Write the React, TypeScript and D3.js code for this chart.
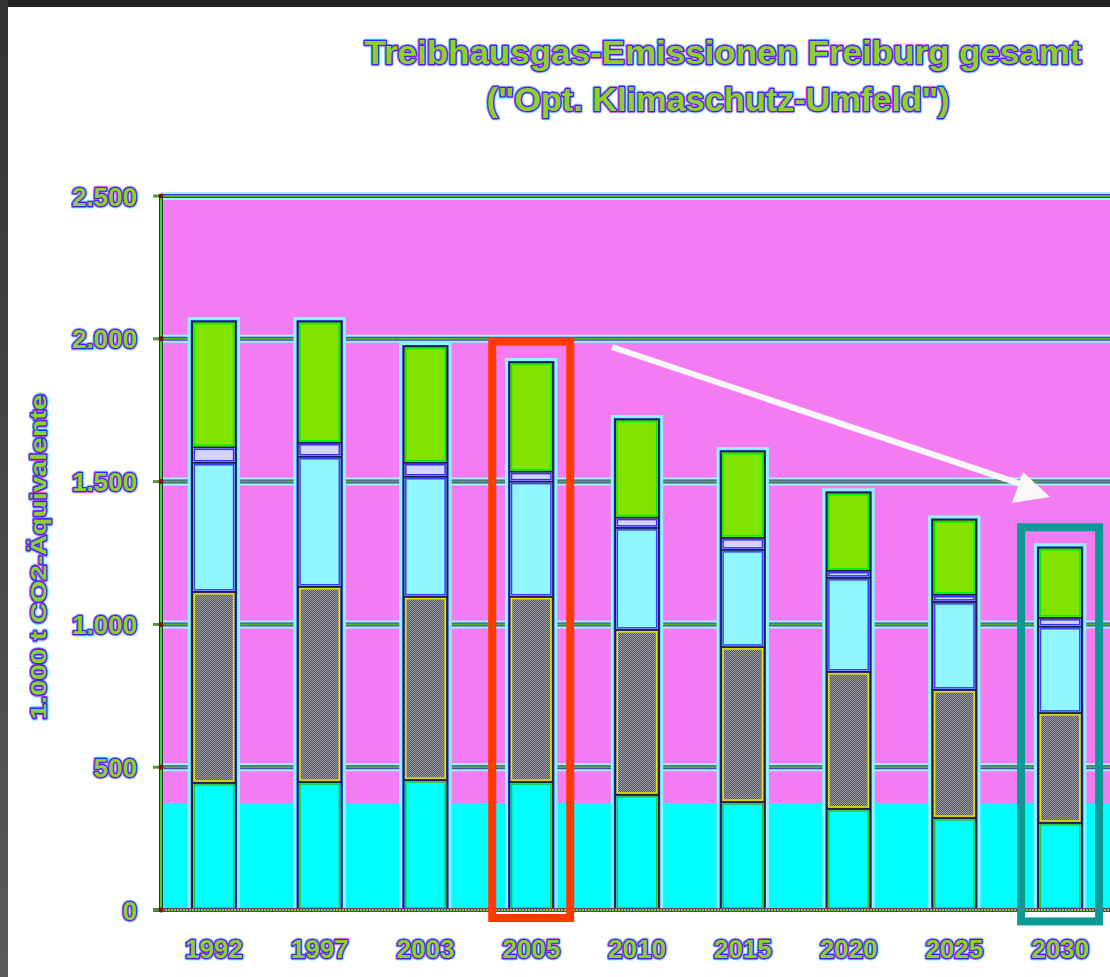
import React from "react";
import * as d3 from "d3";

// ---------- data ----------
const years = ["1992", "1997", "2003", "2005", "2010", "2015", "2020", "2025", "2030"];
const cyanPart = [445, 448, 455, 448, 403, 378, 354, 322, 305];
const grayPart = [669, 684, 642, 649, 578, 543, 480, 449, 385];
const lightCyanPart = [452, 455, 420, 403, 357, 340, 329, 308, 302];
const stripPart = [54, 49, 49, 35, 36, 42, 25, 25, 31];
const greenPart = [440, 424, 407, 382, 343, 302, 273, 262, 245];
const yTicks = [0, 500, 1000, 1500, 2000, 2500];
const yTickLabels = ["0", "500", "1.000", "1.500", "2.000", "2.500"];
const backgroundBand = [375];
const titleLines = ["Treibhausgas-Emissionen Freiburg gesamt", "(\"Opt. Klimaschutz-Umfeld\")"];
const yAxisTitle = "1.000 t CO2-Äquivalente";

const keys = ["cyan", "gray", "lightCyan", "strip", "green"];
const fills: Record<string, string> = {
  cyan: "#00ffff",
  gray: "url(#grayChecker)",
  lightCyan: "#90f6ff",
  strip: "#d4d4ff",
  green: "#80e400",
};
const innerStroke: Record<string, string> = {
  cyan: "#30c030",
  gray: "#e6e600",
  lightCyan: "#3c3cff",
  strip: "#3030ff",
  green: "#00f000",
};

const W = 1110;
const H = 977;
const plotLeft = 161;
const plotTop = 196;
const plotBottom = 910;

function Fancy(props: any) {
  const { x, y, size, anchor, transform, textLength, children } = props;
  const common: any = {
    x,
    y,
    fontSize: size,
    textAnchor: anchor || "middle",
    fontFamily: "'Liberation Sans', Arial, sans-serif",
    fontWeight: "bold",
    transform,
    textLength,
    lengthAdjust: textLength ? "spacingAndGlyphs" : undefined,
  };
  return (
    <g>
      <text {...common} fill="none" stroke="#80ffff" strokeWidth={5} strokeLinejoin="round">{children}</text>
      <text {...common} fill="none" stroke="#e040f0" strokeWidth={3.4} strokeLinejoin="round">{children}</text>
      <text {...common} fill="#90d028" stroke="#2a2af0" strokeWidth={2} strokeLinejoin="round" style={{ paintOrder: "stroke" }}>{children}</text>
    </g>
  );
}

export default function App() {
  const x = d3
    .scaleBand<string>()
    .domain(years)
    .range([plotLeft, plotLeft + 952])
    .paddingInner(0.59)
    .paddingOuter(0.295);
  const y = d3.scaleLinear().domain([0, 2500]).range([plotBottom, plotTop]);

  const rows = years.map((yr, i) => ({
    year: yr,
    cyan: cyanPart[i],
    gray: grayPart[i],
    lightCyan: lightCyanPart[i],
    strip: stripPart[i],
    green: greenPart[i],
  }));
  const stacked = d3.stack<any>().keys(keys)(rows);
  const bw = x.bandwidth();

  const totals = rows.map((r) => keys.reduce((s, k) => s + (r as any)[k], 0));

  const cx2005 = (x("2005") as number) + bw / 2;
  const cx2030 = (x("2030") as number) + bw / 2;

  return (
    <svg width={W} height={H} style={{ position: "absolute", left: 0, top: 0, background: "#ffffff" }}>
      <defs>
        <pattern id="grayChecker" width={2} height={2} patternUnits="userSpaceOnUse">
          <rect width={2} height={2} fill="#56566a" />
          <rect width={1} height={1} fill="#9c9c9c" />
          <rect x={1} y={1} width={1} height={1} fill="#9c9c9c" />
        </pattern>
        <linearGradient id="leftEdge" x1="0" y1="0" x2="0" y2="1">
          <stop offset="0" stopColor="#333333" />
          <stop offset="1" stopColor="#5a5a5a" />
        </linearGradient>
      </defs>

      <rect x={0} y={0} width={W} height={H} fill="#ffffff" />

      {/* plot background */}
      <rect x={plotLeft} y={plotTop} width={W - plotLeft + 10} height={plotBottom - plotTop} fill="#f47cf2" />
      <rect
        x={plotLeft}
        y={y(backgroundBand[0])}
        width={W - plotLeft + 10}
        height={plotBottom - y(backgroundBand[0])}
        fill="#00ffff"
      />

      {/* gridlines */}
      {yTicks.slice(1).map((t) => (
        <g key={"g" + t}>
          <line x1={plotLeft} x2={W + 10} y1={y(t)} y2={y(t)} stroke="#a0f4ff" strokeWidth={8} />
          <line x1={plotLeft} x2={W + 10} y1={y(t)} y2={y(t)} stroke="#3a3ad0" strokeWidth={4} />
          <line x1={plotLeft} x2={W + 10} y1={y(t)} y2={y(t)} stroke="#58b028" strokeWidth={2} />
        </g>
      ))}

      {/* bar halos */}
      {rows.map((r, i) => (
        <rect
          key={"h" + r.year}
          x={(x(r.year) as number) - 3}
          y={y(totals[i]) - 3}
          width={bw + 6}
          height={plotBottom - y(totals[i]) + 3}
          fill="#3030d0"
          stroke="#90f4ff"
          strokeWidth={3}
        />
      ))}

      {/* bars */}
      {stacked.map((s) => (
        <g key={s.key}>
          {s.map((d: any) => {
            const x0 = x(d.data.year) as number;
            const y0 = y(d[1]);
            const h = y(d[0]) - y(d[1]);
            return (
              <g key={d.data.year}>
                <rect x={x0} y={y0} width={bw} height={h} fill={fills[s.key]} stroke="#1c1c50" strokeWidth={1.6} />
                {h > 6 && (
                  <rect
                    x={x0 + 2}
                    y={y0 + 2}
                    width={bw - 4}
                    height={h - 4}
                    fill="none"
                    stroke={innerStroke[s.key]}
                    strokeWidth={1.5}
                  />
                )}
              </g>
            );
          })}
        </g>
      ))}

      {/* axes */}
      <line x1={plotLeft} x2={plotLeft} y1={plotTop - 2} y2={plotBottom + 2} stroke="#1f3a1f" strokeWidth={4} />
      <line x1={plotLeft} x2={plotLeft} y1={plotTop - 2} y2={plotBottom + 2} stroke="#40d040" strokeWidth={2} />
      <line x1={plotLeft - 8} x2={W + 10} y1={plotBottom} y2={plotBottom} stroke="#6a3a6a" strokeWidth={4} />
      <line
        x1={plotLeft - 8}
        x2={W + 10}
        y1={plotBottom}
        y2={plotBottom}
        stroke="#60e020"
        strokeWidth={2}
        strokeDasharray="2 1"
      />
      {yTicks.map((t) => (
        <g key={"t" + t}>
          <line x1={plotLeft - 8} x2={plotLeft} y1={y(t)} y2={y(t)} stroke="#50a030" strokeWidth={3} />
          <circle cx={plotLeft} cy={y(t)} r={2.5} fill="#801010" />
        </g>
      ))}

      {/* tick labels */}
      {yTicks.map((t, i) => (
        <Fancy key={"l" + t} x={137} y={y(t) + 9.5} size={26} anchor="end">
          {yTickLabels[i]}
        </Fancy>
      ))}
      {years.map((yr) => (
        <Fancy key={"x" + yr} x={(x(yr) as number) + bw / 2} y={958} size={26}>
          {yr}
        </Fancy>
      ))}

      {/* axis title */}
      <Fancy x={0} y={0} size={22} transform={`translate(46, 557) rotate(-90)`} textLength={325}>
        {yAxisTitle}
      </Fancy>

      {/* title */}
      <Fancy x={723} y={64} size={34} textLength={717}>
        {titleLines[0]}
      </Fancy>
      <Fancy x={718} y={111} size={34} textLength={463}>
        {titleLines[1]}
      </Fancy>

      {/* annotations */}
      <rect x={cx2005 - 39} y={y(1990)} width={78} height={y(-28) - y(1990)} fill="none" stroke="#ff3a00" strokeWidth={8} />
      <rect x={cx2030 - 39} y={y(1340)} width={78} height={y(-40) - y(1340)} fill="none" stroke="#0a9a96" strokeWidth={8} />
      <line x1={612} y1={347} x2={1030} y2={487} stroke="#f8f8f8" strokeWidth={6} />
      <polygon points="1050,497 1023,472 1012,503" fill="#f8f8f8" />

      {/* screenshot frame edges */}
      <rect x={0} y={0} width={W} height={7} fill="#232323" />
      <rect x={0} y={0} width={8} height={H} fill="url(#leftEdge)" />
    </svg>
  );
}
